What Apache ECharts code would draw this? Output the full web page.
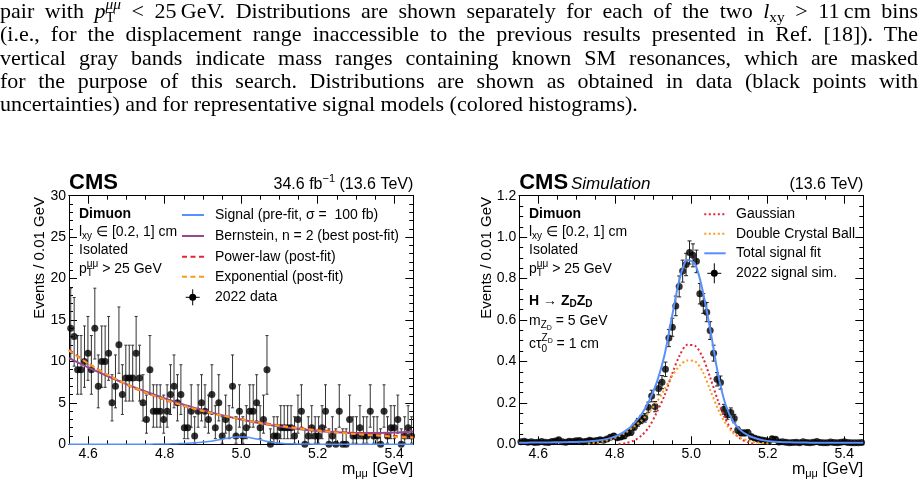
<!DOCTYPE html>
<html>
<head>
<meta charset="utf-8">
<script src="https://cdn.jsdelivr.net/npm/echarts@6/dist/echarts.min.js"></script>
<style>
  body { margin: 0; background: #fff; }
  #wrap { position: relative; width: 921px; height: 487px; overflow: hidden; }
  #chart { position: absolute; left: 0; top: 0; width: 921px; height: 487px; }
  .ln { position: absolute; left: 0; width: 918px; font-family: 'Liberation Serif', 'DejaVu Serif', serif;
        font-size: 22px; line-height: 23px; color: #000; white-space: nowrap; }
  .j { text-align: justify; text-align-last: justify; }
  .sb, .sp { font-size: 0.7em; position: relative; }
  .sb { top: 0.3em; }
  .sp { top: -0.55em; margin-left: -0.61em; }
</style>
</head>
<body>
<div id="wrap">
  <div id="chart"></div>
  <div class="ln j" style="top:-1.2px">pair with <i>p</i><span class="sb">T</span><span class="sp"><i>μμ</i></span> &lt; 25&#8201;GeV. Distributions are shown separately for each of the two <i>l</i><span class="sb">xy</span> &gt; 11&#8201;cm bins</div>
  <div class="ln j" style="top:21.8px">(i.e., for the displacement range inaccessible to the previous results presented in Ref. [18]). The</div>
  <div class="ln j" style="top:45.8px">vertical gray bands indicate mass ranges containing known SM resonances, which are masked</div>
  <div class="ln j" style="top:68.8px">for the purpose of this search. Distributions are shown as obtained in data (black points with</div>
  <div class="ln" style="top:91.8px">uncertainties) and for representative signal models (colored histograms).</div>
</div>
<script>
// ---- data ----
// both panels: 100 bins from 4.55 to 5.45 GeV
const massLo = 4.55, binWidth = 0.009;

// left panel: 2022 data, events per bin
const dataCounts = [
  14, 13, 9, 9, 10, 11, 9, 14, 7, 10, 10, 11, 5, 7, 12, 6, 8, 8, 8, 11,
  8, 5, 3, 9, 4, 4, 4, 3, 4, 6, 7, 5, 6, 2, 2, 4, 1, 4, 5, 4,
  3, 6, 2, 5, 1, 3, 2, 7, 1, 4, 1, 2, 4, 4, 5, 2, 3, 9, 0, 1,
  1, 2, 2, 2, 2, 1, 3, 4, 0, 1, 2, 1, 1, 2, 4, 0, 1, 0, 4, 0,
  0, 3, 1, 1, 2, 1, 1, 4, 1, 1, 0, 4, 1, 2, 2, 3, 0, 1, 2, 1
];

// right panel: 2022 signal simulation
const simYield = [
  0.012, 0.015, 0.010, 0.012, 0.009, 0.010, 0.013, 0.010, 0.009, 0.014,
  0.016, 0.022, 0.012, 0.010, 0.015, 0.013, 0.017, 0.018, 0.012, 0.015,
  0.020, 0.016, 0.018, 0.022, 0.020, 0.025, 0.034, 0.040, 0.032, 0.035,
  0.040, 0.054, 0.058, 0.085, 0.106, 0.120, 0.128, 0.179, 0.233, 0.182,
  0.269, 0.300, 0.362, 0.513, 0.565, 0.668, 0.762, 0.836, 0.868, 0.926,
  0.912, 0.883, 0.727, 0.680, 0.638, 0.549, 0.440, 0.314, 0.298, 0.169,
  0.143, 0.153, 0.124, 0.069, 0.055, 0.055, 0.056, 0.037, 0.029, 0.024,
  0.021, 0.018, 0.013, 0.027, 0.024, 0.011, 0.012, 0.010, 0.008, 0.009,
  0.010, 0.008, 0.012, 0.009, 0.007, 0.010, 0.013, 0.009, 0.008, 0.007,
  0.011, 0.009, 0.008, 0.010, 0.012, 0.009, 0.008, 0.007, 0.008, 0.009
];

// background fits (left panel), sampled every 0.05 GeV
const fitMass = [4.55, 4.60, 4.65, 4.70, 4.75, 4.80, 4.85, 4.90, 4.95, 5.00,
                 5.05, 5.10, 5.15, 5.20, 5.25, 5.30, 5.35, 5.40, 5.45];
const bernsteinFit   = [10.4, 9.28, 8.24, 7.27, 6.37, 5.54, 4.79, 4.12, 3.52, 2.99,
                        2.53, 2.15, 1.85, 1.61, 1.45, 1.37, 1.35, 1.41, 1.55];
const powerLawFit    = [11.4, 9.78, 8.39, 7.22, 6.22, 5.37, 4.64, 4.02, 3.48, 3.02,
                        2.63, 2.29, 1.99, 1.74, 1.52, 1.33, 1.17, 1.02, 0.90];
const exponentialFit = [11.3, 9.75, 8.41, 7.26, 6.26, 5.40, 4.66, 4.02, 3.47, 3.00,
                        2.58, 2.23, 1.92, 1.66, 1.43, 1.24, 1.07, 0.92, 0.79];

// signal shapes, sampled every 0.02 GeV
const sigMass = [4.55, 4.57, 4.59, 4.61, 4.63, 4.65, 4.67, 4.69, 4.71, 4.73,
                 4.75, 4.77, 4.79, 4.81, 4.83, 4.85, 4.87, 4.89, 4.91, 4.93,
                 4.95, 4.97, 4.99, 5.01, 5.03, 5.05, 5.07, 5.09, 5.11, 5.13,
                 5.15, 5.17, 5.19, 5.21, 5.23, 5.25, 5.27, 5.29, 5.31, 5.33,
                 5.35, 5.37, 5.39, 5.41, 5.43, 5.45];
const totalSignalFit = [0.008, 0.008, 0.009, 0.009, 0.009, 0.010, 0.010, 0.011, 0.012, 0.014,
                        0.017, 0.022, 0.031, 0.045, 0.067, 0.100, 0.145, 0.21, 0.30, 0.43,
                        0.62, 0.80, 0.89, 0.87, 0.74, 0.55, 0.34, 0.19, 0.11, 0.066,
                        0.042, 0.028, 0.019, 0.014, 0.011, 0.010, 0.009, 0.009, 0.008, 0.008,
                        0.008, 0.008, 0.007, 0.007, 0.007, 0.007];
const gaussianFit = [null, null, null, null, null, null, null, null, null, null,
                     null, null, null, 0.002, 0.006, 0.018, 0.042, 0.085, 0.155, 0.235,
                     0.34, 0.43, 0.48, 0.475, 0.42, 0.32, 0.21, 0.12, 0.06, 0.025,
                     0.008, 0.002, null, null, null, null, null, null, null, null,
                     null, null, null, null, null, null];
const doubleCBFit = [null, null, null, null, null, null, null, null, null, 0.004,
                     0.008, 0.014, 0.024, 0.038, 0.058, 0.085, 0.115, 0.155, 0.205, 0.265,
                     0.33, 0.38, 0.405, 0.40, 0.35, 0.26, 0.17, 0.10, 0.055, 0.03,
                     0.018, 0.010, 0.006, 0.003, null, null, null, null, null, null,
                     null, null, null, null, null, null];

// ---- colours and fonts ----
const blue = '#5790fc', orange = '#f89c20', red = '#e42536', purple = '#964a8b';
const FF = "'Liberation Sans', Arial, Helvetica, sans-serif";

const binCenter = i => massLo + (i + 0.5) * binWidth;
// approximate Garwood (68%) interval for a count
const poissonLo = n => (n === 0 ? 0 : n - Math.sqrt(n - 0.25));
const poissonHi = n => n + Math.sqrt(n + 0.75) + 1;

const dataPts = dataCounts.map((n, i) => [binCenter(i), n]);
const dataErr = dataCounts.map((n, i) => [binCenter(i), poissonLo(n), poissonHi(n)]);
const simPts = simYield.map((v, i) => [binCenter(i), v]);
const simErr = simYield.map((v, i) => [binCenter(i), v - 0.058 * Math.sqrt(v), v + 0.058 * Math.sqrt(v)]);

// ---- text helpers (sub/superscripts laid out by hand) ----
const mctx = document.createElement('canvas').getContext('2d');
function runWidth(p) {
  mctx.font = (p.i ? 'italic ' : '') + (p.b ? 'bold ' : '') + p.f + 'px ' + FF;
  return mctx.measureText(p.t).width;
}
function textRun(x, y, parts, align) {
  let cur = 0, start = 0;
  const placed = [];
  parts.forEach(p => {
    const w = runWidth(p);
    const px = p.stack ? start : cur;
    if (!p.stack) start = cur;
    placed.push([p, px]);
    cur = Math.max(cur, px + w);
  });
  const shift = align === 'right' ? -cur : 0;
  return placed.map(([p, px]) => ({
    type: 'text', x: x + shift + px, y: y + (p.dy || 0), silent: true,
    style: {
      text: p.t, fill: '#000', fontSize: p.f, fontFamily: FF,
      fontWeight: p.b ? 'bold' : 'normal', fontStyle: p.i ? 'italic' : 'normal',
      textAlign: 'left', textVerticalAlign: 'middle'
    }
  }));
}
function legLine(x1, x2, y, color, dash) {
  return { type: 'line', silent: true, shape: { x1, y1: y, x2, y2: y },
           style: { stroke: color, lineWidth: 2, lineDash: dash || null } };
}
function legMarker(x, y, hw, hh) {
  return [
    { type: 'line', silent: true, shape: { x1: x - hw, y1: y, x2: x + hw, y2: y }, style: { stroke: '#000', lineWidth: 1 } },
    { type: 'line', silent: true, shape: { x1: x, y1: y - hh, x2: x, y2: y + hh }, style: { stroke: '#000', lineWidth: 1 } },
    { type: 'circle', silent: true, shape: { cx: x, cy: y, r: 3.5 }, style: { fill: '#000' } }
  ];
}
function yTitle(x, y) {
  return { type: 'text', x, y, rotation: Math.PI / 2, silent: true,
           style: { text: 'Events / 0.01 GeV', fill: '#000', fontSize: 15, fontFamily: FF,
                    textAlign: 'right', textVerticalAlign: 'middle' } };
}
function infoBlock(x) {
  return [].concat(
    textRun(x, 214, [{ t: 'Dimuon', f: 14, b: 1 }]),
    textRun(x, 232, [{ t: 'l', f: 14 }, { t: 'xy', f: 10, dy: 4 }, { t: ' ∈ [0.2, 1] cm', f: 14 }]),
    textRun(x, 250.5, [{ t: 'Isolated', f: 14 }]),
    textRun(x, 269.5, [{ t: 'p', f: 14 }, { t: 'T', f: 10, dy: 4 }, { t: 'μμ', f: 10, dy: -5, stack: 1 },
                       { t: ' > 25 GeV', f: 14 }])
  );
}

const gfx = [].concat(
  // left panel
  textRun(69, 182.7, [{ t: 'CMS', f: 22, b: 1 }]),
  textRun(413.3, 185, [{ t: '34.6 fb', f: 16 }, { t: '−1', f: 11, dy: -6 }, { t: ' (13.6 TeV)', f: 16 }], 'right'),
  infoBlock(79),
  legLine(182, 204, 215, blue),
  legLine(182, 204, 236, purple),
  legLine(182, 204, 256.7, red, [5, 3.5]),
  legLine(182, 204, 276.7, orange, [5, 3.5]),
  legMarker(192.7, 297.3, 7, 8),
  textRun(215, 215, [{ t: 'Signal (pre-fit, σ =  100 fb)', f: 14 }]),
  textRun(215, 236, [{ t: 'Bernstein, n = 2 (best post-fit)', f: 14 }]),
  textRun(215, 256.7, [{ t: 'Power-law (post-fit)', f: 14 }]),
  textRun(215, 276.7, [{ t: 'Exponential (post-fit)', f: 14 }]),
  textRun(215, 297.3, [{ t: '2022 data', f: 14 }]),
  yTitle(40, 197),
  textRun(413.3, 470, [{ t: 'm', f: 16 }, { t: 'μμ', f: 11, dy: 4 }, { t: ' [GeV]', f: 16 }], 'right'),
  // right panel
  textRun(519.2, 182.7, [{ t: 'CMS', f: 22, b: 1 }]),
  textRun(571, 184, [{ t: 'Simulation', f: 17, i: 1 }]),
  textRun(863.3, 185, [{ t: '(13.6 TeV)', f: 16 }], 'right'),
  infoBlock(529),
  textRun(529, 300.7, [{ t: 'H → Z', f: 14, b: 1 }, { t: 'D', f: 10, b: 1, dy: 4 }, { t: 'Z', f: 14, b: 1 }, { t: 'D', f: 10, b: 1, dy: 4 }]),
  textRun(529, 321, [{ t: 'm', f: 14 }, { t: 'Z', f: 10, dy: 4 }, { t: 'D', f: 7, dy: 7 }, { t: ' = 5 GeV', f: 14 }]),
  textRun(529, 344, [{ t: 'cτ', f: 14 }, { t: '0', f: 10, dy: 5 }, { t: 'Z', f: 10, dy: -6, stack: 1 }, { t: 'D', f: 7, dy: -3 },
                     { t: ' = 1 cm', f: 14 }]),
  legLine(704.3, 725.7, 214.3, red, [2, 2.5]),
  legLine(704.3, 725.7, 233.7, orange, [2, 2.5]),
  legLine(704.3, 725.7, 253.3, blue),
  legMarker(714.3, 273.3, 7, 10),
  textRun(736, 214.3, [{ t: 'Gaussian', f: 14 }]),
  textRun(736, 233.7, [{ t: 'Double Crystal Ball', f: 14 }]),
  textRun(736, 253.3, [{ t: 'Total signal fit', f: 14 }]),
  textRun(736, 273.3, [{ t: '2022 signal sim.', f: 14 }]),
  yTitle(486.7, 197),
  textRun(863.3, 470, [{ t: 'm', f: 16 }, { t: 'μμ', f: 11, dy: 4 }, { t: ' [GeV]', f: 16 }], 'right')
);

// ---- axes ----
const frame = { show: true, onZero: false, lineStyle: { color: '#000', width: 1 } };
function xAxes(g) {
  const base = { type: 'value', gridIndex: g, min: 4.55, max: 5.45, splitLine: { show: false }, axisLine: frame };
  const major = { inside: true, length: 8, lineStyle: { color: '#000' } };
  const minor = { inside: true, length: 4, lineStyle: { color: '#000' } };
  return [
    Object.assign({}, base, { position: 'bottom', splitNumber: 5, axisTick: major,
      axisLabel: { margin: 3, showMinLabel: false, showMaxLabel: false, color: '#000', fontSize: 14, fontFamily: FF,
                   formatter: v => v.toFixed(1) } }),
    Object.assign({}, base, { position: 'bottom', interval: 0.05, axisTick: minor, axisLabel: { show: false } }),
    Object.assign({}, base, { position: 'top', splitNumber: 5, axisTick: major, axisLabel: { show: false } }),
    Object.assign({}, base, { position: 'top', interval: 0.05, axisTick: minor, axisLabel: { show: false } })
  ];
}
function yAxes(g, max, step, minorSplit, digits) {
  const base = { type: 'value', gridIndex: g, min: 0, max, interval: step, splitLine: { show: false }, axisLine: frame,
                 axisTick: { inside: true, length: 8, lineStyle: { color: '#000' } },
                 minorTick: { show: true, splitNumber: minorSplit, length: 4, lineStyle: { color: '#000' } } };
  return [
    Object.assign({}, base, { position: 'left',
      axisLabel: { margin: 3, color: '#000', fontSize: 14, fontFamily: FF, formatter: v => v.toFixed(digits) } }),
    Object.assign({}, base, { position: 'right', axisLabel: { show: false } })
  ];
}

// ---- series helpers ----
function curve(xi, yi, xs, ys, color, width, dash) {
  return { type: 'line', xAxisIndex: xi, yAxisIndex: yi, data: xs.map((x, k) => [x, ys[k]]),
           smooth: 0.3, symbol: 'none', showSymbol: false, silent: true,
           lineStyle: { color, width, type: dash || 'solid' } };
}
function errorBars(xi, yi, rows, capHalf, color) {
  return {
    type: 'custom', xAxisIndex: xi, yAxisIndex: yi, data: rows, encode: { x: 0, y: [1, 2] }, silent: true, clip: true,
    renderItem: (params, api) => {
      const top = api.coord([api.value(0), api.value(2)]);
      const bot = api.coord([api.value(0), api.value(1)]);
      const st = { stroke: color, lineWidth: 1 };
      return { type: 'group', children: [
        { type: 'line', shape: { x1: top[0], y1: top[1], x2: bot[0], y2: bot[1] }, style: st },
        { type: 'line', shape: { x1: top[0] - capHalf, y1: top[1], x2: top[0] + capHalf, y2: top[1] }, style: st },
        { type: 'line', shape: { x1: bot[0] - capHalf, y1: bot[1], x2: bot[0] + capHalf, y2: bot[1] }, style: st }
      ] };
    }
  };
}
function points(xi, yi, pts) {
  return { type: 'scatter', xAxisIndex: xi, yAxisIndex: yi, data: pts, symbol: 'circle', symbolSize: 7,
           itemStyle: { color: '#000' }, silent: true };
}

const chart = echarts.init(document.getElementById('chart'), null, { renderer: 'canvas' });
chart.setOption({
  backgroundColor: '#fff',
  animation: false,
  grid: [
    { left: 69, top: 195.7, width: 344.3, height: 248.6 },
    { left: 519.2, top: 195.7, width: 344.1, height: 248.6 }
  ],
  xAxis: xAxes(0).concat(xAxes(1)),
  yAxis: yAxes(0, 30, 5, 5, 0).concat(yAxes(1, 1.2, 0.2, 4, 1)),
  graphic: { elements: gfx },
  series: [
    // left: 2022 data with fits
    curve(0, 0, sigMass, totalSignalFit, blue, 1.5),
    curve(0, 0, fitMass, bernsteinFit, purple, 2),
    curve(0, 0, fitMass, powerLawFit, red, 2, [5, 3.5]),
    curve(0, 0, fitMass, exponentialFit, orange, 2, [5, 3.5]),
    errorBars(0, 0, dataErr, 1.5, '#333'),
    points(0, 0, dataPts),
    // right: signal simulation
    curve(4, 2, sigMass, gaussianFit, red, 2, [2, 2.5]),
    curve(4, 2, sigMass, doubleCBFit, orange, 2, [2, 2.5]),
    curve(4, 2, sigMass, totalSignalFit, blue, 2),
    errorBars(4, 2, simErr, 2, '#222'),
    points(4, 2, simPts)
  ]
});
</script>
</body>
</html>
